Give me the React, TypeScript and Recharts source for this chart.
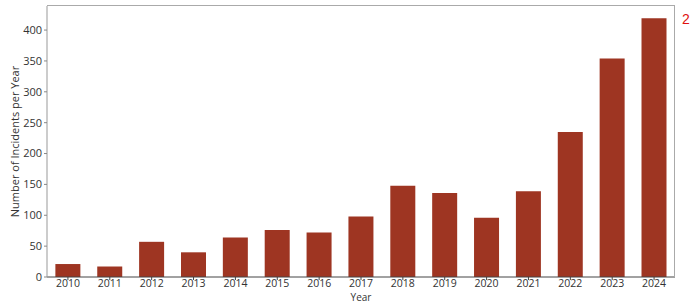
import React from "react";
import { BarChart, Bar, XAxis, YAxis } from "recharts";

const YEARS = ["2010", "2011", "2012", "2013", "2014", "2015", "2016", "2017", "2018", "2019", "2020", "2021", "2022", "2023", "2024"];
const INCIDENTS = [21, 17, 57, 40, 64, 76, 72, 98, 148, 136, 96, 139, 235, 354, 419];
const Y_TICKS = [0, 50, 100, 150, 200, 250, 300, 350, 400];

const BAR_COLOR = "#9e3522";
const FONT = "'Open Sans', sans-serif";
const TICK_STYLE = { fontSize: 11, fill: "#333", fontFamily: FONT };

const data = YEARS.map((year, i) => ({ year, count: INCIDENTS[i] }));

export default function App() {
  return (
    <div style={{ position: "absolute", left: 0, top: 0, width: 698, height: 302, background: "#fff" }}>
      <BarChart
        width={698}
        height={302}
        data={data}
        margin={{ top: 6, right: 23, left: 0, bottom: 0 }}
        barCategoryGap="20%"
      >
        <XAxis
          dataKey="year"
          height={25}
          tick={{ ...TICK_STYLE, fontSize: 10.5 }}
          tickSize={3}
          tickMargin={0}
          tickLine={{ stroke: "#444" }}
          axisLine={{ stroke: "#444" }}
          interval={0}
          label={(props: any) => {
            const vb = props.viewBox;
            return (
              <text
                x={vb.x + vb.width / 2}
                y={300.5}
                textAnchor="middle"
                fontSize={10}
                fill="#333"
                fontFamily={FONT}
              >
                Year
              </text>
            );
          }}
        />
        <YAxis
          width={47}
          domain={[0, 439]}
          ticks={Y_TICKS}
          tick={TICK_STYLE}
          tickSize={3}
          tickLine={{ stroke: "#888" }}
          axisLine={{ stroke: "#999" }}
          label={(props: any) => {
            const vb = props.viewBox;
            const cy = vb.y + vb.height / 2;
            return (
              <text
                x={14}
                y={cy}
                transform={`rotate(-90, 14, ${cy})`}
                textAnchor="middle"
                dominantBaseline="central"
                fontSize={11}
                fill="#333"
                fontFamily={FONT}
              >
                Number of Incidents per Year
              </text>
            );
          }}
        />
        <Bar dataKey="count" fill={BAR_COLOR} isAnimationActive={false} />
      </BarChart>
      {/* top / right spines */}
      <div
        style={{
          position: "absolute",
          left: 47,
          top: 5,
          width: 627,
          height: 271,
          borderTop: "1px solid #aaa",
          borderRight: "1px solid #aaa",
          pointerEvents: "none",
        }}
      />
      <div
        style={{
          position: "absolute",
          left: 682,
          top: 11,
          color: "#e01010",
          fontSize: 14,
          fontFamily: "'Liberation Sans', sans-serif",
        }}
      >
        2
      </div>
    </div>
  );
}
